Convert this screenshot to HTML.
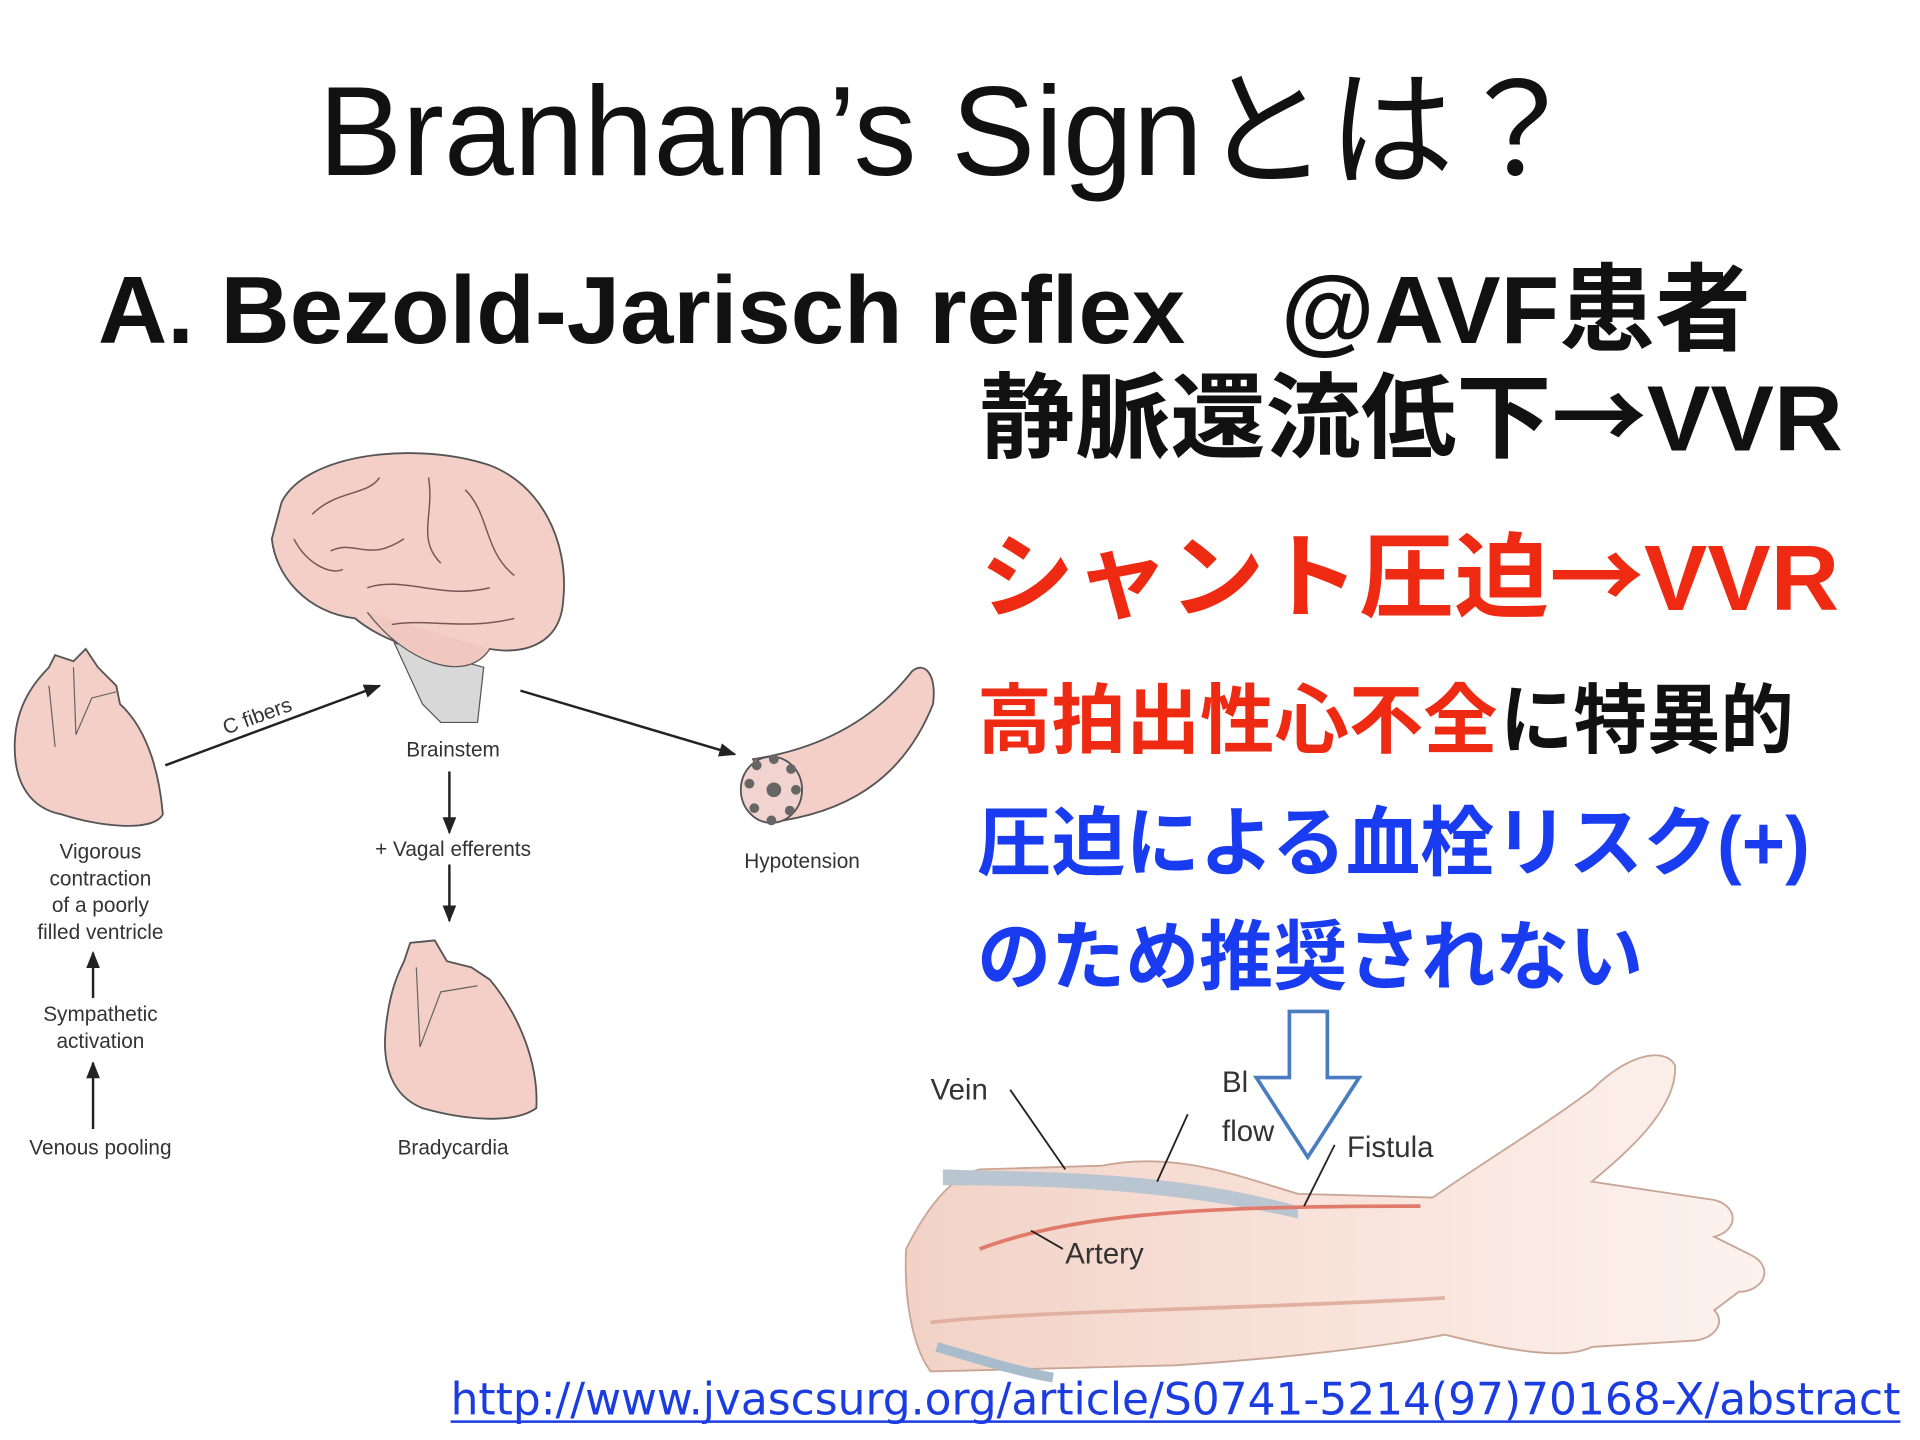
<!DOCTYPE html>
<html><head><meta charset="utf-8"><style>
html,body{margin:0;padding:0;background:#fff;}
svg{display:block;}
</style></head><body>
<svg width="1920" height="1440" viewBox="0 0 1568 1176" xmlns="http://www.w3.org/2000/svg">
<defs>
<marker id="ah" viewBox="0 0 10 10" refX="9" refY="5" markerWidth="7" markerHeight="7" orient="auto"><path d="M0,1 L10,5 L0,9 Z" fill="#222"/></marker>
<linearGradient id="skin" x1="0" x2="1"><stop offset="0" stop-color="#f2d2c6"/><stop offset="0.6" stop-color="#f9e6de"/><stop offset="1" stop-color="#fcf2ee"/></linearGradient>
</defs>
<rect width="1568" height="1176" fill="#fff"/>

<text x="260" y="143" font-family="Liberation Sans, Noto Sans CJK JP, sans-serif" font-size="104" fill="#111" textLength="1030" lengthAdjust="spacingAndGlyphs">Branham’s Signとは？</text>

<g font-family="Liberation Sans, Noto Sans CJK JP, sans-serif" font-weight="bold">
<text x="80" y="280" font-size="78" fill="#111" textLength="1350" lengthAdjust="spacingAndGlyphs">A. Bezold-Jarisch reflex　@AVF患者</text>
<text x="800" y="368" font-size="76" fill="#111" textLength="705" lengthAdjust="spacingAndGlyphs">静脈還流低下<tspan font-family="Noto Sans CJK JP, sans-serif">→</tspan>VVR</text>
<text x="800" y="498" font-size="76" fill="#ee2a12" textLength="702" lengthAdjust="spacingAndGlyphs">シャント圧迫<tspan font-family="Noto Sans CJK JP, sans-serif">→</tspan>VVR</text>
<text x="798" y="610" font-size="62" fill="#ee2a12" textLength="425" lengthAdjust="spacingAndGlyphs">高拍出性心不全</text>
<text x="1225" y="610" font-size="62" fill="#111" textLength="240" lengthAdjust="spacingAndGlyphs">に特異的</text>
<text x="798" y="710" font-size="62" fill="#1a3cf0" textLength="680" lengthAdjust="spacingAndGlyphs">圧迫による血栓リスク(+)</text>
<text x="798" y="803" font-size="62" fill="#1a3cf0" textLength="544" lengthAdjust="spacingAndGlyphs">のため推奨されない</text>
</g>

<!-- brain -->
<path d="M322,525 L345,575 L360,590 L390,590 L395,545 Z" fill="#d8d8d8" stroke="#555"/>
<path d="M230,410 C250,370 340,360 400,380 C440,395 465,440 460,490 C458,525 430,535 400,530 C370,540 320,530 290,505 C250,500 225,470 222,440 Z" fill="#f3cfc7" stroke="#555" stroke-width="1.5"/>
<path d="M300,500 C330,540 380,560 400,530" fill="#f0c8c0" stroke="#555"/>
<g fill="none" stroke="#7a5555" stroke-width="1.2">
<path d="M255,420 C275,400 300,405 310,390"/><path d="M270,450 C290,440 300,460 330,440"/><path d="M350,390 C355,420 340,440 360,460"/><path d="M380,400 C400,420 395,450 420,470"/><path d="M300,480 C330,470 360,490 400,480"/><path d="M240,440 C250,460 270,470 280,465"/><path d="M320,510 C350,505 380,515 420,505"/>
</g>
<!-- heart left -->
<path d="M40,545 L45,535 L60,540 L70,530 L80,545 L95,560 L98,575 C120,595 130,630 133,665 C125,680 80,675 50,665 C25,660 12,640 12,610 C12,580 25,560 40,545 Z" fill="#f3cfc7" stroke="#555" stroke-width="1.5"/>
<path d="M40,560 L45,610 M60,545 L62,600 L75,570 L95,565" fill="none" stroke="#666"/>
<!-- heart bottom -->
<path d="M330,785 L335,770 L355,768 L365,785 L385,790 L400,800 C425,830 440,870 438,905 C420,918 380,915 345,905 C320,895 312,870 315,840 C318,810 325,795 330,785 Z" fill="#f3cfc7" stroke="#555" stroke-width="1.5"/>
<path d="M340,790 L343,855 L360,810 L390,805" fill="none" stroke="#666"/>
<!-- vessel -->
<path d="M615,620 C680,610 720,580 745,548 C755,540 765,550 762,575 C740,630 700,660 640,670 Z" fill="#f3cfc7" stroke="#555" stroke-width="1.5"/>
<ellipse cx="630" cy="645" rx="25" ry="27" fill="#f1d4d0" stroke="#555" stroke-width="1.5"/>
<g fill="#666"><circle cx="612" cy="640" r="4"/><circle cx="618" cy="625" r="4"/><circle cx="632" cy="620" r="4"/><circle cx="646" cy="628" r="4"/><circle cx="650" cy="645" r="4"/><circle cx="645" cy="662" r="4"/><circle cx="630" cy="670" r="4"/><circle cx="616" cy="660" r="4"/><circle cx="632" cy="645" r="6"/></g>

<!-- arrows -->
<g stroke="#222" stroke-width="2" fill="none" marker-end="url(#ah)">
<line x1="135" y1="625" x2="310" y2="560"/>
<line x1="425" y1="564" x2="600" y2="616"/>
<line x1="367" y1="630" x2="367" y2="680"/>
<line x1="367" y1="706" x2="367" y2="752"/>
<line x1="76" y1="815" x2="76" y2="778"/>
<line x1="76" y1="922" x2="76" y2="868"/>
</g>
<g font-family="Liberation Sans, sans-serif" font-size="17" fill="#333" text-anchor="middle">
<text x="212" y="590" transform="rotate(-20 212 590)">C fibers</text>
<text x="370" y="618">Brainstem</text>
<text x="370" y="699">+ Vagal efferents</text>
<text x="655" y="709">Hypotension</text>
<text x="82" y="701">Vigorous</text>
<text x="82" y="723">contraction</text>
<text x="82" y="745">of a poorly</text>
<text x="82" y="767">filled ventricle</text>
<text x="82" y="834">Sympathetic</text>
<text x="82" y="856">activation</text>
<text x="82" y="943">Venous pooling</text>
<text x="370" y="943">Bradycardia</text>
</g>

<!-- arm -->
<path d="M740,1020 C760,980 780,960 800,955 L900,952 C960,940 1010,960 1060,975 L1170,978 C1210,950 1260,920 1300,890 C1330,860 1360,855 1368,870 C1370,905 1330,940 1300,965 L1400,980 C1420,985 1420,1005 1400,1010 L1430,1025 C1450,1035 1440,1055 1420,1055 L1400,1070 C1410,1080 1400,1095 1380,1095 L1300,1100 C1280,1110 1240,1105 1180,1090 C1130,1100 1040,1110 960,1115 L760,1120 C745,1100 738,1060 740,1020 Z" fill="url(#skin)" stroke="#c9a596" stroke-width="1.5"/>
<path d="M770,955 C850,958 950,955 1060,985 L1060,995 C950,970 850,968 770,968 Z" fill="#b9c5d0"/>
<path d="M800,1020 C880,990 990,985 1160,985" fill="none" stroke="#e07a6a" stroke-width="3"/>
<path d="M760,1080 C850,1070 1000,1070 1180,1060" fill="none" stroke="#e2b0a0" stroke-width="3"/>
<path d="M765,1100 C800,1110 830,1120 860,1125" fill="none" stroke="#a9bccc" stroke-width="8"/>
<g stroke="#222" stroke-width="1.5" fill="none">
<line x1="825" y1="890" x2="870" y2="955"/><line x1="970" y1="910" x2="945" y2="965"/><line x1="1090" y1="935" x2="1065" y2="985"/><line x1="842" y1="1005" x2="868" y2="1020"/>
</g>
<g font-family="Liberation Sans, sans-serif" font-size="24" fill="#333">
<text x="760" y="898">Vein</text><text x="998" y="892">Bl</text><text x="998" y="932">flow</text><text x="1100" y="945">Fistula</text><text x="870" y="1032">Artery</text>
</g>
<path d="M1053,826 L1084,826 L1084,880 L1110,880 L1068,945 L1026,880 L1053,880 Z" fill="#fff" fill-opacity="0.85" stroke="#4a7cc0" stroke-width="3"/>

<text x="368" y="1155" font-family="DejaVu Sans, Liberation Sans, sans-serif" font-size="36" fill="#1a3ce0" textLength="1184" lengthAdjust="spacingAndGlyphs">http://www.jvascsurg.org/article/S0741-5214(97)70168-X/abstract</text>
<line x1="368" y1="1161" x2="1552" y2="1161" stroke="#1a3ce0" stroke-width="2"/>
</svg>
</body></html>
